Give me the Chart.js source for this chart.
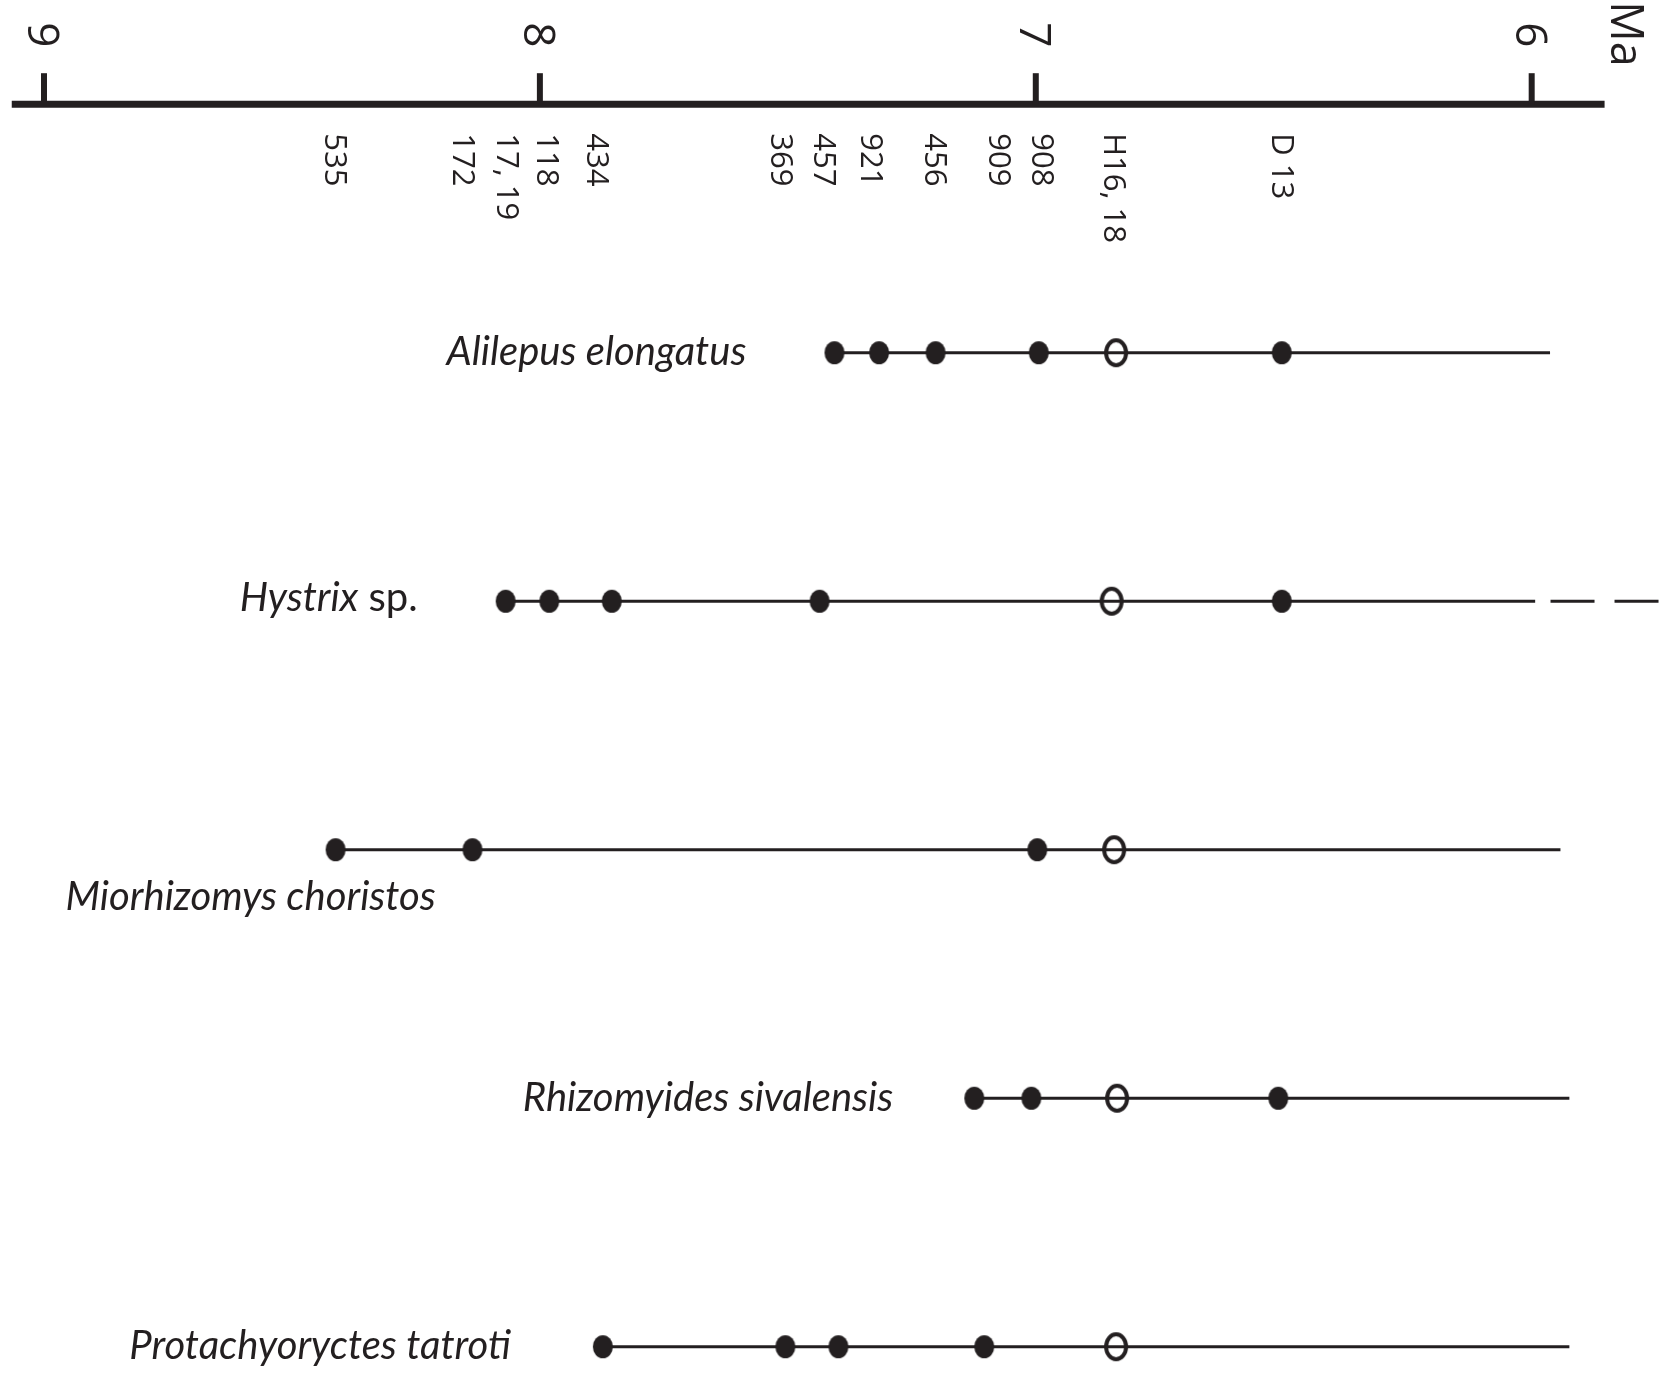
<!DOCTYPE html>
<html>
<head>
<meta charset="utf-8">
<script src="https://cdn.jsdelivr.net/npm/chart.js@4.4.1/dist/chart.umd.min.js"></script>
<style>
  html, body { margin: 0; padding: 0; background: #fff; }
  canvas { display: block; }
</style>
</head>
<body>
<canvas id="ranges" width="1669" height="1379"></canvas>
<script>
// ages in Ma (older to the left)
const species = ['Alilepus elongatus', 'Hystrix sp.', 'Miorhizomys choristos', 'Rhizomyides sivalensis', 'Protachyoryctes tatroti'];
const filledAges = [
  [7.406, 7.316, 7.202, 6.994, 6.504],
  [8.069, 7.981, 7.855, 7.436, 6.504],
  [8.412, 8.136, 6.997],
  [7.124, 7.009, 6.511],
  [7.873, 7.505, 7.398, 7.104]
];
const openAges = [6.838, 6.847, 6.842, 6.836, 6.838];
const rangeEnds = [5.963, 5.993, 5.942, 5.924, 5.924];
const dashedRange = [null, [5.962, 5.744], null, null, null];

const majorTicks = [9, 8, 7, 6];
const axisExtent = [9.065, 5.853];
const localities = ['535', '172', '17, 19', '118', '434', '369', '457', '921', '456', '909', '908', 'H16, 18', 'D 13'];
const localityAges = [8.411, 8.153, 8.063, 7.983, 7.882, 7.511, 7.425, 7.329, 7.200, 7.071, 6.985, 6.839, 6.502];

const ink = '#231f20';

// where each name sits relative to the first dot of its row
const labelLayout = [
  { align: 'right', dx: -88, dy: 12 },
  { align: 'right', dx: -88, dy: 10 },
  { align: 'left', dx: -270, dy: 60 },
  { align: 'right', dx: -81, dy: 13 },
  { align: 'right', dx: -92, dy: 12 }
];

function ellipseDot(w, h, filled, lw) {
  const c = document.createElement('canvas');
  c.width = w + 4;
  c.height = h + 4;
  const g = c.getContext('2d');
  g.beginPath();
  if (filled) {
    g.ellipse(c.width / 2, c.height / 2, w / 2, h / 2, 0, 0, Math.PI * 2);
    g.fillStyle = ink;
    g.fill();
  } else {
    g.ellipse(c.width / 2, c.height / 2, (w - lw) / 2, (h - lw) / 2, 0, 0, Math.PI * 2);
    g.lineWidth = lw;
    g.strokeStyle = ink;
    g.stroke();
  }
  return c;
}
const filledDot = ellipseDot(20, 23, true);
const openDot = ellipseDot(24, 29, false, 4);

const datasets = [];
species.forEach((name, i) => {
  const row = i + 1;
  const start = Math.max(...filledAges[i]);
  datasets.push({
    data: [{ x: start, y: row }, { x: rangeEnds[i], y: row }],
    showLine: true, borderColor: ink, borderWidth: 3, pointRadius: 0, order: 2, clip: false
  });
  if (dashedRange[i]) {
    datasets.push({
      data: dashedRange[i].map(a => ({ x: a, y: row })),
      showLine: true, borderColor: ink, borderWidth: 3, borderDash: [44, 20],
      pointRadius: 0, order: 2, clip: false
    });
  }
  datasets.push({
    data: filledAges[i].map(a => ({ x: a, y: row })),
    showLine: false, pointStyle: filledDot, pointRadius: 10, order: 1, clip: false
  });
  datasets.push({
    data: [{ x: openAges[i], y: row }],
    showLine: false, pointStyle: openDot, pointRadius: 12, order: 1, clip: false
  });
});

function vtext(ctx, str, px, top, size) {
  ctx.save();
  ctx.translate(px, top);
  ctx.rotate(Math.PI / 2);
  ctx.font = size + 'px "Open Sans"';
  ctx.textAlign = 'left';
  ctx.textBaseline = 'alphabetic';
  ctx.fillText(str, 0, 0.36 * size);
  ctx.restore();
}

const annotate = {
  id: 'annotate',
  beforeDatasetsDraw(chart) {
    const ctx = chart.ctx;
    const xs = chart.scales.x, ys = chart.scales.y;
    const y0 = ys.getPixelForValue(0);
    ctx.save();
    ctx.strokeStyle = ink;
    ctx.fillStyle = ink;
    ctx.lineWidth = 7;
    ctx.beginPath();
    ctx.moveTo(xs.getPixelForValue(axisExtent[0]), y0);
    ctx.lineTo(xs.getPixelForValue(axisExtent[1]), y0);
    ctx.stroke();
    ctx.lineWidth = 6;
    majorTicks.forEach(t => {
      const px = xs.getPixelForValue(t);
      ctx.beginPath();
      ctx.moveTo(px, y0);
      ctx.lineTo(px, y0 - 31);
      ctx.stroke();
      vtext(ctx, String(t), px, y0 - 82, 44);
    });
    vtext(ctx, 'Ma', xs.getPixelForValue(axisExtent[1]) + 23, y0 - 103, 45);
    localities.forEach((lab, i) => {
      vtext(ctx, lab, xs.getPixelForValue(localityAges[i]), y0 + 29, 31);
    });
    ctx.restore();
  },
  afterDatasetsDraw(chart) {
    const ctx = chart.ctx;
    const xs = chart.scales.x, ys = chart.scales.y;
    ctx.save();
    ctx.fillStyle = ink;
    ctx.textBaseline = 'alphabetic';
    species.forEach((name, i) => {
      const lay = labelLayout[i];
      const px = xs.getPixelForValue(Math.max(...filledAges[i])) + lay.dx;
      const py = ys.getPixelForValue(i + 1) + lay.dy;
      const parts = name.endsWith(' sp.')
        ? [[name.slice(0, -4), 'italic'], [' sp.', 'normal']]
        : [[name, 'italic']];
      const fonts = parts.map(p => p[1] + ' 40px Lato');
      const widths = parts.map((p, k) => { ctx.font = fonts[k]; return ctx.measureText(p[0]).width; });
      const total = widths.reduce((a, b) => a + b, 0);
      let cx = lay.align === 'right' ? px - total : px;
      ctx.textAlign = 'left';
      parts.forEach((p, k) => {
        ctx.font = fonts[k];
        ctx.fillText(p[0], cx, py);
        cx += widths[k];
      });
    });
    ctx.restore();
  }
};

new Chart(document.getElementById('ranges'), {
  type: 'scatter',
  data: { datasets: datasets },
  options: {
    responsive: false,
    animation: false,
    devicePixelRatio: 1,
    layout: { padding: 0, autoPadding: false },
    plugins: { legend: { display: false }, tooltip: { enabled: false } },
    scales: {
      x: { type: 'linear', reverse: true, min: 5.7231, max: 9.0887, display: false },
      y: { type: 'linear', reverse: true, min: -0.4193, max: 5.130, display: false }
    }
  },
  plugins: [annotate]
});
</script>
</body>
</html>
